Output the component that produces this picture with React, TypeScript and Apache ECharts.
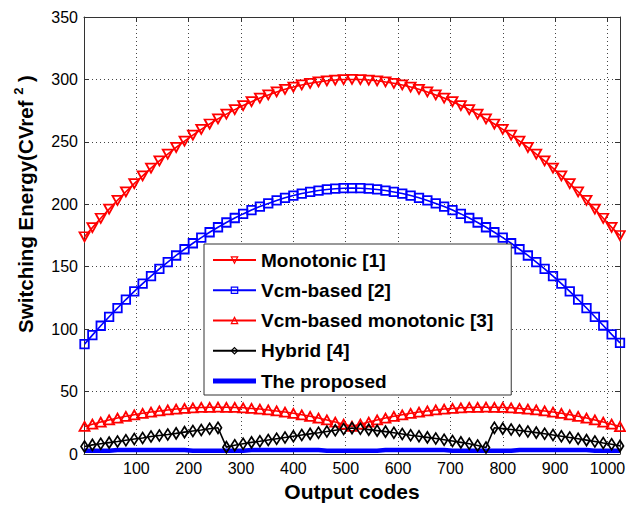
import React, { useEffect, useRef } from "react";
import * as echarts from "echarts";

const codes = [
  1, 16, 32, 48, 64, 80, 96, 112, 128, 144, 160, 176, 192, 208, 224, 240, 256,
  272, 288, 304, 320, 336, 352, 368, 384, 400, 416, 432, 448, 464, 480, 496, 512,
  528, 544, 560, 576, 592, 608, 624, 640, 656, 672, 688, 704, 720, 736, 752, 768,
  784, 800, 816, 832, 848, 864, 880, 896, 912, 928, 944, 960, 976, 992, 1008, 1024,
];

const monotonic = [
  174, 181.3, 188.8, 196.1, 203.2, 210, 216.5, 222.8, 228.9, 234.7, 240.2, 245.5, 250.6,
  255.4, 260, 264.3, 268.4, 272.2, 275.8, 279.1, 282.2, 285.1, 287.6, 290, 292.1, 293.9,
  295.6, 296.9, 298, 298.9, 299.5, 299.9, 300, 299.9, 299.5, 298.9, 298, 296.9, 295.6,
  293.9, 292.1, 290, 287.6, 285.1, 282.2, 279.1, 275.8, 272.2, 268.4, 264.3, 260, 255.4,
  250.6, 245.5, 240.2, 234.7, 228.9, 222.8, 216.5, 210, 203.2, 196.1, 188.8, 181.5, 175,
];

const vcmBased = [
  88, 95.2, 102.7, 109.9, 116.9, 123.7, 130.2, 136.4, 142.4, 148.2, 153.7, 159, 164,
  168.8, 173.3, 177.6, 181.6, 185.4, 189, 192.3, 195.4, 198.2, 200.7, 203.1, 205.2, 207,
  208.6, 209.9, 211, 211.9, 212.5, 212.9, 213, 212.9, 212.5, 211.9, 211, 209.9, 208.6,
  207, 205.2, 203.1, 200.7, 198.2, 195.4, 192.3, 189, 185.4, 181.6, 177.6, 173.3, 168.8,
  164, 159, 153.7, 148.2, 142.4, 136.4, 130.2, 123.7, 116.9, 109.9, 102.9, 95.8, 89,
];

const vcmMonotonic = [
  22.1, 23.9, 25.6, 27.3, 28.8, 30.2, 31.4, 32.6, 33.6, 34.5, 35.3, 36, 36.5, 37, 37.3,
  37.4, 37.5, 37.4, 37.3, 37, 36.5, 36, 35.3, 34.5, 33.6, 32.6, 31.4, 30.2, 28.8, 27.3,
  25.6, 23.9, 22.2, 23.9, 25.6, 27.3, 28.8, 30.2, 31.4, 32.6, 33.6, 34.5, 35.3, 36, 36.5,
  37, 37.3, 37.4, 37.5, 37.4, 37.3, 37, 36.5, 36, 35.3, 34.5, 33.6, 32.6, 31.4, 30.2,
  28.8, 27.3, 25.6, 23.9, 22,
];

const hybrid = [
  6, 7.3, 8.2, 9.1, 10, 11, 12, 12.8, 14, 14.8, 15.6, 16.5, 17.5, 18.4, 19.2, 20.2, 21,
  5.5, 7, 8.2, 9.3, 10.2, 11.2, 12.2, 13.2, 14.2, 15.2, 16.1, 17, 18, 19, 20, 20.8,
  20.2, 19.5, 18.7, 17.9, 17, 16, 15, 14.2, 13.3, 12.4, 11.4, 10.4, 9.3, 8.2, 6.8, 5.2,
  21, 20.3, 19.6, 18.8, 18, 17.1, 16.2, 15.2, 14.2, 13.2, 12.2, 11.1, 10, 8.8, 7.8, 6.5,
];

const proposed = [
  2.6, 2.6, 2.6, 2.6,
  3.2, 3.2, 3.2, 3.2, 3.2, 3.2, 3.2, 3.2, 3.2,
  2.6, 2.6, 2.6, 2.6, 2.6, 2.6, 2.6,
  3.2, 3.2, 3.2, 3.2, 3.2, 3.2, 3.2, 3.2, 3.2,
  2.6, 2.6, 2.6, 2.6, 2.6, 2.6, 2.6,
  3.2, 3.2, 3.2, 3.2, 3.2, 3.2, 3.2, 3.2,
  2.6, 2.6, 2.6, 2.6, 2.6, 2.6, 2.6, 2.6,
  3.2, 3.2, 3.2, 3.2, 3.2, 3.2, 3.2, 3.2, 3.2,
  2.6, 2.6, 2.6, 2.6,
];

const seriesNames = [
  "Monotonic [1]",
  "Vcm-based [2]",
  "Vcm-based monotonic [3]",
  "Hybrid [4]",
  "The proposed",
];

const xTicks = { min: 0, max: 1024, interval: 100 };
const yTicks = { min: 0, max: 350, interval: 50 };

const pairs = (ys: number[]) => codes.map((c, i) => [c, ys[i]]);

export default function App() {
  const ref = useRef<HTMLDivElement>(null);

  useEffect(() => {
    const chart = echarts.init(ref.current!, null, { renderer: "svg" });
    const font = "'Liberation Sans', Arial, Helvetica, sans-serif";
    const axisLine = { color: "#333", width: 1 };
    const tick = { show: true, inside: true, length: 5, lineStyle: axisLine };
    const gridLine = { show: true, lineStyle: { color: "#444", type: [1, 3], width: 1 } };

    const markerSeries = (
      name: string,
      ys: number[],
      color: string,
      symbol: string,
      size: number | number[],
      rotate = 0
    ) => ({
      name,
      type: "line",
      data: pairs(ys),
      xAxisIndex: 0,
      yAxisIndex: 0,
      symbol,
      symbolSize: size,
      symbolRotate: rotate,
      showAllSymbol: true,
      lineStyle: { color, width: 1.6 },
      itemStyle: { color: "rgba(255,255,255,0)", borderColor: color, borderWidth: 1.8 },
      emphasis: { disabled: true },
    });

    chart.setOption({
      animation: false,
      backgroundColor: "#fff",
      grid: {
        left: 84,
        right: 6,
        top: 17,
        bottom: 51,
        containLabel: false,
        outerBoundsMode: "none",
      },
      xAxis: [
        {
          type: "value",
          ...xTicks,
          position: "bottom",
          axisLine: { show: true, onZero: false, lineStyle: axisLine },
          axisTick: tick,
          axisLabel: {
            show: true,
            margin: 6,
            color: "#000",
            fontSize: 16,
            fontFamily: font,
            showMinLabel: false,
            showMaxLabel: false,
            formatter: (v: number) => String(v),
          },
          splitLine: gridLine,
          name: "Output codes",
          nameLocation: "middle",
          nameGap: 27,
          nameTextStyle: { color: "#000", fontSize: 21, fontWeight: "bold", fontFamily: font },
        },
        {
          type: "value",
          ...xTicks,
          position: "top",
          axisLine: { show: true, onZero: false, lineStyle: axisLine },
          axisTick: tick,
          axisLabel: { show: false },
          splitLine: { show: false },
        },
      ],
      yAxis: [
        {
          type: "value",
          ...yTicks,
          position: "left",
          axisLine: { show: true, onZero: false, lineStyle: axisLine },
          axisTick: tick,
          axisLabel: {
            show: true,
            margin: 6,
            color: "#000",
            fontSize: 16,
            fontFamily: font,
            formatter: (v: number) => String(v),
          },
          splitLine: gridLine,
        },
        {
          type: "value",
          ...yTicks,
          position: "right",
          axisLine: { show: true, onZero: false, lineStyle: axisLine },
          axisTick: tick,
          axisLabel: { show: false },
          splitLine: { show: false },
        },
      ],
      legend: {
        orient: "vertical",
        left: 204,
        top: 244,
        padding: [6, 18, 4, 8],
        itemGap: 10.25,
        itemWidth: 43,
        itemHeight: 8,
        backgroundColor: "#fff",
        borderColor: "#333",
        borderWidth: 1,
        borderRadius: 0,
        selectedMode: false,
        itemStyle: { color: "rgba(255,255,255,0)", borderColor: "inherit", borderWidth: 1.2 },
        textStyle: {
          fontSize: 19,
          fontWeight: "bold",
          color: "#000",
          fontFamily: font,
          lineHeight: 20,
        },
        data: [
          { name: seriesNames[0] },
          { name: seriesNames[1] },
          { name: seriesNames[2] },
          { name: seriesNames[3] },
          {
            name: seriesNames[4],
            icon: "path://M0,0H43V5H0Z",
            itemStyle: { color: "#0000ff", borderWidth: 0 },
          },
        ],
      },
      graphic: [
        {
          type: "text",
          x: 25,
          y: 204,
          rotation: Math.PI / 2,
          style: {
            text: "Switching Energy(CVref {s|2} )",
            fontSize: 20.5,
            fontWeight: "bold",
            fontFamily: font,
            fill: "#000",
            align: "center",
            verticalAlign: "middle",
            lineHeight: 26,
            rich: {
              s: {
                fontSize: 13,
                fontWeight: "bold",
                fontFamily: font,
                fill: "#000",
                verticalAlign: "top",
                lineHeight: 13,
              },
            },
          },
        },
      ],
      series: [
        markerSeries(seriesNames[0], monotonic, "#ff0000", "triangle", [10, 9], 180),
        markerSeries(seriesNames[1], vcmBased, "#0000ff", "rect", 8.5),
        markerSeries(seriesNames[2], vcmMonotonic, "#ff0000", "triangle", [10, 9]),
        markerSeries(seriesNames[3], hybrid, "#000000", "diamond", [7, 11]),
        {
          name: seriesNames[4],
          type: "line",
          data: pairs(proposed),
          xAxisIndex: 0,
          yAxisIndex: 0,
          symbol: "none",
          color: "#0000ff",
          lineStyle: { color: "#0000ff", width: 4.5 },
          itemStyle: { color: "#0000ff" },
          emphasis: { disabled: true },
        },
      ],
    });

    return () => chart.dispose();
  }, []);

  return (
    <div
      ref={ref}
      style={{ position: "fixed", left: 0, top: 0, width: 626, height: 505, background: "#fff" }}
    />
  );
}
